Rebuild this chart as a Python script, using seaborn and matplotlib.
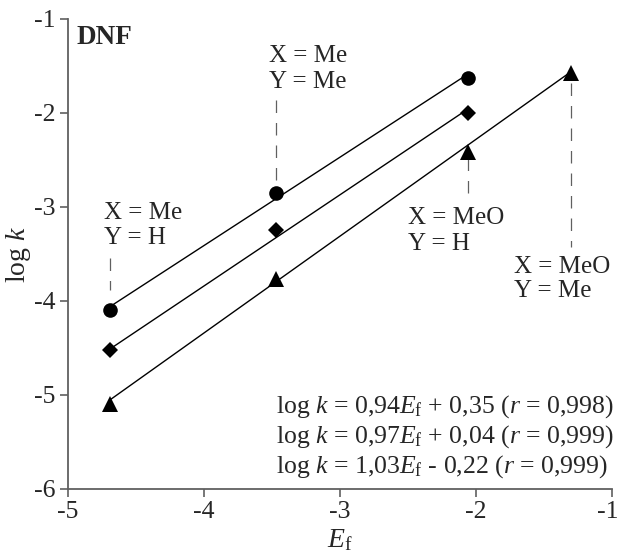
import numpy as np
import matplotlib
matplotlib.use("Agg")
import matplotlib.pyplot as plt
import matplotlib.transforms as mtransforms
import seaborn as sns

# ---- data ----
ef_circle = [-4.69, -3.47, -2.06]
logk_circle = [-4.10, -2.85, -1.63]
ef_diamond = [-4.69, -3.47, -2.06]
logk_diamond = [-4.52, -3.25, -2.00]
ef_triangle = [-4.69, -3.47, -2.06, -1.30]
logk_triangle = [-5.10, -3.77, -2.42, -1.57]

slopes = [0.94, 0.97, 1.03]
intercepts = [0.35, 0.04, -0.22]
equations = [
    r"log $k$ = 0,94$E_\mathrm{f}$ + 0,35 ($r$ = 0,998)",
    r"log $k$ = 0,97$E_\mathrm{f}$ + 0,04 ($r$ = 0,999)",
    r"log $k$ = 1,03$E_\mathrm{f}$ - 0,22 ($r$ = 0,999)",
]
x_ticks = [-5, -4, -3, -2, -1]
y_ticks = [-6, -5, -4, -3, -2, -1]

sns.set_theme(style="ticks")
plt.rcParams["font.family"] = "serif"
plt.rcParams["font.serif"] = ["Liberation Serif", "DejaVu Serif"]
plt.rcParams["mathtext.fontset"] = "custom"
plt.rcParams["mathtext.rm"] = "Liberation Serif"
plt.rcParams["mathtext.it"] = "Liberation Serif:italic"
plt.rcParams["mathtext.bf"] = "Liberation Serif:bold"
FAM = "Liberation Serif"

fig = plt.figure(figsize=(6.21, 5.56), dpi=100)
ax = fig.add_axes([68/621, 1 - 489/556, (612-68)/621, (489-19)/556])

series = [
    (ef_circle, logk_circle, "o", 10.5),
    (ef_diamond, logk_diamond, "D", 8.5),
    (ef_triangle, logk_triangle, "^", 11.5),
]
for (xs, ys, m, ms), a, b in zip(series, slopes, intercepts):
    xl = np.array([min(xs), max(xs)])
    sns.lineplot(x=xl, y=a * xl + b, ax=ax, color="black", lw=1.0)
    ax.plot(xs, ys, linestyle="none", marker=m, markersize=ms, color="black",
            markeredgewidth=0, zorder=5)

# annotations: two text lines + dashed leader
labels = [
    ("X = Me", "Y = H", -4.735, -3.128, -3.394, (-4.69, -3.54, -3.88)),
    ("X = Me", "Y = Me", -3.522, -1.457, -1.734, (-3.47, -1.862, -2.713)),
    ("X = MeO", "Y = H", -2.50, -3.181, -3.457, (-2.06, -2.479, -2.926)),
    ("X = MeO", "Y = Me", -1.721, -3.702, -3.957, (-1.30, -1.68, -3.426)),
]
for t1, t2, tx, b1, b2, (lx, y0, y1) in labels:
    ax.text(tx, b1, t1, fontsize=18, va="baseline", ha="left", family=FAM)
    ax.text(tx, b2, t2, fontsize=18, va="baseline", ha="left", family=FAM)
    ax.plot([lx, lx], [y0, y1], color="#606060", lw=0.9, dashes=(10, 8))

ax.text(-4.934, -1.266, "DNF", fontsize=19.5, fontweight="bold", va="baseline",
        ha="left", family=FAM)

eq_baselines = [-5.19, -5.51, -5.82]
for eq, yb in zip(equations, eq_baselines):
    ax.text(-3.47, yb, eq, fontsize=18.5, ha="left", va="baseline", family=FAM)

ax.set_xlim(-5, -1)
ax.set_ylim(-6, -1)
ax.set_xticks(x_ticks)
ax.set_yticks(y_ticks)
ax.set_xticklabels([str(t) for t in x_ticks], family=FAM)
ax.set_yticklabels([str(t) for t in y_ticks], family=FAM)
ax.tick_params(labelsize=18.5, length=6, width=1.2, color="#606060", pad=3)
for s in ["top", "right"]:
    ax.spines[s].set_visible(False)
for s in ["left", "bottom"]:
    ax.spines[s].set_color("#606060")
    ax.spines[s].set_linewidth(1.3)

# nudge the last x tick label so it stays inside the canvas
last = ax.get_xticklabels()[-1]
last.set_transform(last.get_transform() +
                   mtransforms.ScaledTranslation(-4/100, 0, fig.dpi_scale_trans))

ax.set_xlabel(r"$E_\mathrm{f}$", fontsize=20, labelpad=3)
ax.set_ylabel(r"log $k$", fontsize=20, labelpad=1, family=FAM)

fig.savefig("out.png", dpi=100)
